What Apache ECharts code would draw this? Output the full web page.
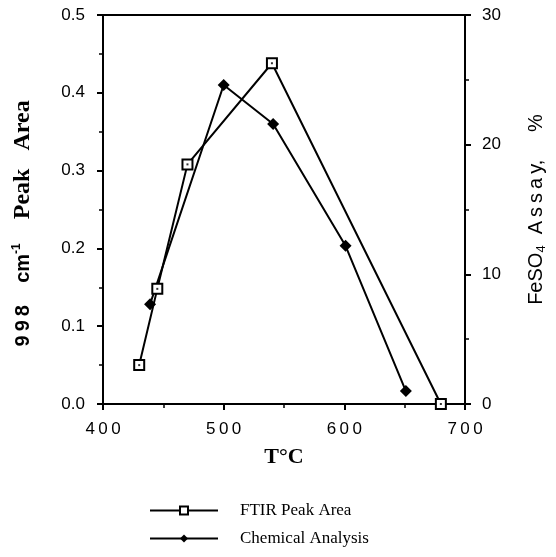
<!DOCTYPE html>
<html>
<head>
<meta charset="utf-8">
<script src="https://cdn.jsdelivr.net/npm/echarts@6/dist/echarts.min.js"></script>
<style>
  html, body { margin: 0; padding: 0; background: #fff; }
  #root { width: 556px; height: 557px; }
</style>
</head>
<body>
<div id="root"></div>
<script>
  // data
  const ftirTemp = [430, 445, 470, 540, 680]
  const ftirArea = [0.05, 0.148, 0.308, 0.438, 0.0]
  const chemTemp = [439, 500, 541, 601, 651]
  const chemAssay = [7.7, 24.6, 21.6, 12.2, 1.0]
  const seriesNames = ['FTIR Peak Area', 'Chemical Analysis']

  const ftirPts = ftirTemp.map((t, i) => [t, ftirArea[i]])
  const chemPts = chemTemp.map((t, i) => [t, chemAssay[i]])

  // widen digits a bit, the scanned labels are letter-spaced
  const spaced = s => String(s).split('').join('\u2009')

  const chart = echarts.init(document.getElementById('root'))

  const axisCommon = {
    axisLine: { show: true, lineStyle: { color: '#000', width: 2 } },
    axisTick: { show: true, inside: false, length: 6, lineStyle: { color: '#000', width: 2 } },
    minorTick: { show: true, splitNumber: 2, length: 4, lineStyle: { color: '#000', width: 1.5 } },
    splitLine: { show: false },
    axisLabel: { color: '#000', fontFamily: 'Liberation Sans', fontSize: 17 }
  }

  const option = {
    animation: false,
    grid: {
      left: 103, right: 86, top: 15, bottom: 153,
      show: true, borderColor: '#000', borderWidth: 2
    },
    xAxis: Object.assign({}, axisCommon, {
      type: 'value', min: 400, max: 700, interval: 100,
      name: 'T°C', nameLocation: 'middle', nameGap: 42,
      nameTextStyle: { fontFamily: 'Liberation Serif', fontWeight: 'bold', fontSize: 22, color: '#000' },
      axisLabel: Object.assign({}, axisCommon.axisLabel, { margin: 17, formatter: v => spaced(v) })
    }),
    yAxis: [
      Object.assign({}, axisCommon, {
        type: 'value', min: 0, max: 0.5, interval: 0.1, position: 'left',
        axisLabel: Object.assign({}, axisCommon.axisLabel, { margin: 18, formatter: v => v.toFixed(1) }),
        name: '{a|9\u20099\u20098    cm}{s|-1}{b|    Peak   Area}{a|     }', nameLocation: 'middle', nameGap: 68,
        nameTextStyle: {
          color: '#000',
          rich: {
            a: { fontFamily: 'Liberation Sans', fontWeight: 'bold', fontSize: 20, color: '#000' },
            s: { fontFamily: 'Liberation Sans', fontWeight: 'bold', fontSize: 12, color: '#000', verticalAlign: 'top', padding: [0, 0, 10, 0] },
            b: { fontFamily: 'Liberation Serif', fontWeight: 'bold', fontSize: 24, color: '#000' }
          }
        }
      }),
      Object.assign({}, axisCommon, {
        type: 'value', min: 0, max: 30, interval: 10, position: 'right',
        axisLabel: Object.assign({}, axisCommon.axisLabel, { margin: 17 }),
        name: '{a|FeSO}{s|4}{a|  A\u2009s\u2009s\u2009a\u2009y,     %}', nameLocation: 'middle', nameGap: 60,
        nameRotate: 90,
        nameTextStyle: {
          color: '#000',
          rich: {
            a: { fontFamily: 'Liberation Sans', fontSize: 20, color: '#000' },
            s: { fontFamily: 'Liberation Sans', fontSize: 13, color: '#000', verticalAlign: 'bottom', padding: [10, 0, 0, 0] }
          }
        }
      })
    ],
    legend: {
      orient: 'vertical', left: 144, top: 497,
      itemWidth: 68, itemHeight: 10, itemGap: 11,
      data: seriesNames,
      textStyle: { fontFamily: 'Liberation Serif', fontSize: 17, color: '#000', padding: [0, 0, 0, 17] }
    },
    series: [
      {
        name: seriesNames[0], type: 'line', yAxisIndex: 0, data: ftirPts,
        symbol: 'rect', symbolSize: 10,
        lineStyle: { color: '#000', width: 2 },
        itemStyle: { color: '#fff', borderColor: '#000', borderWidth: 2 }
      },
      {
        // small dot inside the open squares
        type: 'scatter', yAxisIndex: 0, data: ftirPts,
        symbol: 'rect', symbolSize: 2, silent: true,
        itemStyle: { color: '#000' }, z: 5
      },
      {
        name: seriesNames[1], type: 'line', yAxisIndex: 1, data: chemPts,
        symbol: 'diamond', symbolSize: 12,
        lineStyle: { color: '#000', width: 2 },
        itemStyle: { color: '#000' }
      }
    ]
  }
  chart.setOption(option)
</script>
</body>
</html>
